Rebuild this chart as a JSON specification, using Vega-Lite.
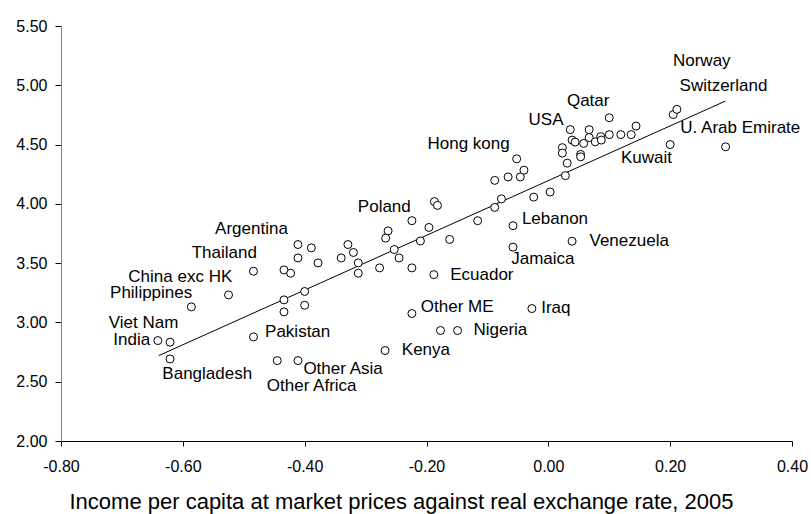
{
  "$schema": "https://vega.github.io/schema/vega-lite/v6.json",
  "width": 731,
  "height": 415,
  "autosize": {"type": "none"},
  "padding": {"left": 61, "top": 26, "right": 19, "bottom": 73},
  "background": "white",
  "config": {
    "view": {"stroke": null},
    "font": "Liberation Sans",
    "axis": {"grid": false, "labelFont": "Liberation Sans", "titleFont": "Liberation Sans", "labelColor": "black", "titleColor": "black", "tickColor": "black"}
  },
  "datasets": {
    "pts": [
      {"x": -0.641, "y": 2.847}, {"x": -0.621, "y": 2.833}, {"x": -0.621, "y": 2.692},
      {"x": -0.586, "y": 3.131}, {"x": -0.525, "y": 3.232}, {"x": -0.484, "y": 3.432},
      {"x": -0.484, "y": 2.878}, {"x": -0.434, "y": 3.443}, {"x": -0.423, "y": 3.415},
      {"x": -0.434, "y": 3.19}, {"x": -0.434, "y": 3.089}, {"x": -0.4, "y": 3.261},
      {"x": -0.4, "y": 3.145}, {"x": -0.411, "y": 3.657}, {"x": -0.411, "y": 3.544},
      {"x": -0.389, "y": 3.629}, {"x": -0.378, "y": 3.502}, {"x": -0.445, "y": 2.678},
      {"x": -0.411, "y": 2.678}, {"x": -0.34, "y": 3.544}, {"x": -0.329, "y": 3.657},
      {"x": -0.32, "y": 3.59}, {"x": -0.312, "y": 3.502}, {"x": -0.312, "y": 3.415},
      {"x": -0.277, "y": 3.46}, {"x": -0.268, "y": 2.763}, {"x": -0.263, "y": 3.772},
      {"x": -0.267, "y": 3.711}, {"x": -0.253, "y": 3.615}, {"x": -0.245, "y": 3.544},
      {"x": -0.224, "y": 3.46}, {"x": -0.224, "y": 3.075}, {"x": -0.21, "y": 3.687},
      {"x": -0.224, "y": 3.858}, {"x": -0.196, "y": 3.801}, {"x": -0.187, "y": 4.019},
      {"x": -0.182, "y": 3.987}, {"x": -0.188, "y": 3.403}, {"x": -0.177, "y": 2.932},
      {"x": -0.149, "y": 2.932}, {"x": -0.162, "y": 3.7}, {"x": -0.116, "y": 3.858},
      {"x": -0.088, "y": 3.97}, {"x": -0.077, "y": 4.042}, {"x": -0.088, "y": 4.198},
      {"x": -0.066, "y": 4.227}, {"x": -0.046, "y": 4.227}, {"x": -0.04, "y": 4.284},
      {"x": -0.052, "y": 4.38}, {"x": -0.024, "y": 4.057}, {"x": 0.003, "y": 4.1},
      {"x": 0.028, "y": 4.238}, {"x": 0.031, "y": 4.343}, {"x": 0.023, "y": 4.474},
      {"x": 0.023, "y": 4.428}, {"x": 0.053, "y": 4.417}, {"x": 0.053, "y": 4.397},
      {"x": 0.036, "y": 4.626}, {"x": 0.067, "y": 4.626}, {"x": 0.039, "y": 4.538},
      {"x": 0.044, "y": 4.521}, {"x": 0.058, "y": 4.51}, {"x": 0.067, "y": 4.559},
      {"x": 0.077, "y": 4.523}, {"x": 0.086, "y": 4.567}, {"x": 0.087, "y": 4.538},
      {"x": 0.1, "y": 4.584}, {"x": 0.1, "y": 4.726}, {"x": 0.119, "y": 4.584},
      {"x": 0.136, "y": 4.584}, {"x": 0.144, "y": 4.656}, {"x": 0.205, "y": 4.753},
      {"x": 0.211, "y": 4.797}, {"x": 0.2, "y": 4.5}, {"x": 0.291, "y": 4.481},
      {"x": -0.058, "y": 3.816}, {"x": -0.058, "y": 3.635}, {"x": 0.039, "y": 3.685},
      {"x": -0.027, "y": 3.117}
    ],
    "labels": [
      {"text": "Norway", "x": 0.2046, "y": 5.204},
      {"text": "Switzerland", "x": 0.2154, "y": 4.993},
      {"text": "Qatar", "x": 0.0305, "y": 4.869},
      {"text": "USA", "x": -0.0325, "y": 4.706},
      {"text": "Hong kong", "x": -0.1984, "y": 4.504},
      {"text": "U. Arab Emirate", "x": 0.2166, "y": 4.641},
      {"text": "Kuwait", "x": 0.1192, "y": 4.383},
      {"text": "Lebanon", "x": -0.0434, "y": 3.871},
      {"text": "Venezuela", "x": 0.0676, "y": 3.685},
      {"text": "Jamaica", "x": -0.061, "y": 3.533},
      {"text": "Ecuador", "x": -0.1611, "y": 3.404},
      {"text": "Other ME", "x": -0.2093, "y": 3.126},
      {"text": "Iraq", "x": -0.0117, "y": 3.122},
      {"text": "Nigeria", "x": -0.1229, "y": 2.94},
      {"text": "Kenya", "x": -0.2405, "y": 2.771},
      {"text": "Poland", "x": -0.3127, "y": 3.97},
      {"text": "Argentina", "x": -0.5471, "y": 3.784},
      {"text": "Thailand", "x": -0.5854, "y": 3.586},
      {"text": "China exc HK", "x": -0.6895, "y": 3.38},
      {"text": "Philippines", "x": -0.7195, "y": 3.245},
      {"text": "Viet Nam", "x": -0.7217, "y": 2.996},
      {"text": "India", "x": -0.7141, "y": 2.85},
      {"text": "Pakistan", "x": -0.465, "y": 2.92},
      {"text": "Bangladesh", "x": -0.6336, "y": 2.563},
      {"text": "Other Asia", "x": -0.4021, "y": 2.611},
      {"text": "Other Africa", "x": -0.4622, "y": 2.464}
    ]
  },
  "layer": [
    {
      "data": {"name": "pts"},
      "transform": [{"regression": "y", "on": "x", "method": "linear", "extent": [-0.6396, 0.2905]}],
      "mark": {"type": "line", "color": "black", "strokeWidth": 1},
      "encoding": {
        "x": {"field": "x", "type": "quantitative", "scale": {"domain": [-0.8, 0.4]}, "axis": {"values": [-0.8, -0.6, -0.4, -0.2, 0, 0.2, 0.4], "format": ".2f", "labelExpr": "replace(datum.label, '\u2212', '-')", "title": "Income per capita at market prices against real exchange rate, 2005", "titleFontSize": 22, "titleFontWeight": "normal", "titlePadding": 17, "titleX": 340, "titleAnchor": null, "titleAlign": "center", "labelFontSize": 16, "tickSize": 5, "labelPadding": 12, "domainColor": "black", "labelFlush": false}},
        "y": {"field": "y", "type": "quantitative", "scale": {"domain": [2, 5.5]}, "axis": {"values": [2, 2.5, 3, 3.5, 4, 4.5, 5, 5.5], "format": ".2f", "title": null, "labelFontSize": 16, "tickSize": 6, "labelPadding": 8, "domainColor": "#808080", "labelFlush": false}}
      }
    },
    {
      "data": {"name": "pts"},
      "mark": {"type": "point", "shape": "circle", "filled": false, "fill": "white", "fillOpacity": 1, "stroke": "black", "strokeWidth": 1, "opacity": 1, "size": 64},
      "encoding": {
        "x": {"field": "x", "type": "quantitative"},
        "y": {"field": "y", "type": "quantitative"}
      }
    },
    {
      "data": {"name": "labels"},
      "mark": {"type": "text", "align": "left", "baseline": "middle", "fontSize": 17, "color": "black"},
      "encoding": {
        "x": {"field": "x", "type": "quantitative"},
        "y": {"field": "y", "type": "quantitative"},
        "text": {"field": "text"}
      }
    }
  ]
}
